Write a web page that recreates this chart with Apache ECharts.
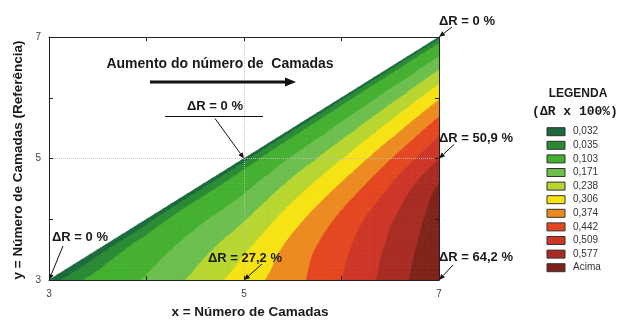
<!DOCTYPE html>
<html>
<head>
<meta charset="utf-8">
<script src="https://cdn.jsdelivr.net/npm/echarts@6/dist/echarts.min.js"></script>
<style>
  html, body { margin: 0; padding: 0; background: #ffffff; }
  #chart { width: 623px; height: 321px; }
</style>
</head>
<body>
<div id="chart"></div>
<script>
// ΔR on a 0.5 grid: one row per reference layer count y, x running from y up to 7
const gridStep = 0.5;
const rowY = [3, 3.5, 4, 4.5, 5, 5.5, 6, 6.5, 7];
const dR_y3   = [0, 0.050, 0.111, 0.187, 0.272, 0.350, 0.441, 0.538, 0.642];
const dR_y3_5 = [0, 0.065, 0.142, 0.228, 0.331, 0.425, 0.523, 0.627];
const dR_y4   = [0, 0.081, 0.165, 0.279, 0.391, 0.500, 0.612];
const dR_y4_5 = [0, 0.090, 0.204, 0.324, 0.450, 0.588];
const dR_y5   = [0, 0.112, 0.234, 0.370, 0.509];
const dR_y5_5 = [0, 0.127, 0.265, 0.416];
const dR_y6   = [0, 0.143, 0.296];
const dR_y6_5 = [0, 0.158];
const dR_y7   = [0];
const dRRows = [dR_y3, dR_y3_5, dR_y4, dR_y4_5, dR_y5, dR_y5_5, dR_y6, dR_y6_5, dR_y7];

// contour band edges and legend
const contourLevels = [0.012, 0.035, 0.103, 0.171, 0.238, 0.306, 0.374, 0.442, 0.509, 0.577];
const legendLabels = ['0,032', '0,035', '0,103', '0,171', '0,238', '0,306', '0,374', '0,442', '0,509', '0,577', 'Acima'];
const bandColors = ['#1b6a3c', '#2a8a34', '#43b02f', '#6cbf4d', '#b7d62f', '#f6e312', '#ec8a20', '#e4461f', '#cd3526', '#a82b22', '#7f2219'];

// axis ticks with labels
const tickLabels = [3, 5, 7];

// annotated points [x, y]
const annotatedPoints = [[3, 3], [5, 5], [5, 3], [7, 7], [7, 5], [7, 3]];

const FONT = "'Liberation Sans', Arial, sans-serif";
const N = rowY.length;

function valueAt(x, y) {
  const r = Math.round((y - rowY[0]) / gridStep);
  const c = Math.round((x - rowY[r]) / gridStep);
  return dRRows[r][c];
}

const gridPoints = [];
dRRows.forEach((row, r) => row.forEach((v, c) => gridPoints.push([rowY[r] + c * gridStep, rowY[r], v])));

// square helper grid for smooth shading: mirrored with opposite sign across the diagonal
const square = [];
for (let j = 0; j < N; j++) {
  square[j] = [];
  for (let i = 0; i < N; i++) square[j][i] = i >= j ? dRRows[j][i - j] : -dRRows[i][j - i];
}
function G(i, j) {
  if (i < 0) return 2 * G(0, j) - G(1, j);
  if (i >= N) return 2 * G(N - 1, j) - G(N - 2, j);
  if (j < 0) return 2 * G(i, 0) - G(i, 1);
  if (j >= N) return 2 * G(i, N - 1) - G(i, N - 2);
  return square[j][i];
}
function catmull(p0, p1, p2, p3, t) {
  return 0.5 * (2 * p1 + (p2 - p0) * t + (2 * p0 - 5 * p1 + 4 * p2 - p3) * t * t + (3 * p1 - p0 - 3 * p2 + p3) * t * t * t);
}
const smoothCache = new Map();
function smoothValue(x, y) {
  const key = Math.round(x * 1000) + ':' + Math.round(y * 1000);
  if (smoothCache.has(key)) return smoothCache.get(key);
  const fx = (x - rowY[0]) / gridStep, fy = (y - rowY[0]) / gridStep;
  let i = Math.min(Math.floor(fx), N - 2), j = Math.min(Math.floor(fy), N - 2);
  const tx = fx - i, ty = fy - j;
  const col = [];
  for (let m = -1; m <= 2; m++) col.push(catmull(G(i - 1, j + m), G(i, j + m), G(i + 1, j + m), G(i + 2, j + m), tx));
  const v = Math.abs(x - y) < 1e-9 ? 0 : catmull(col[0], col[1], col[2], col[3], ty);
  smoothCache.set(key, v);
  return v;
}

// keep the part of a polygon where f(v) >= 0, interpolating linearly along edges
function clipPoly(poly, f) {
  const out = [];
  for (let i = 0; i < poly.length; i++) {
    const a = poly[i], b = poly[(i + 1) % poly.length];
    const fa = f(a.v), fb = f(b.v);
    if (fa >= 0) out.push(a);
    if ((fa >= 0) !== (fb >= 0)) {
      const t = fa / (fa - fb);
      out.push({ x: a.x + (b.x - a.x) * t, y: a.y + (b.y - a.y) * t, v: a.v + (b.v - a.v) * t });
    }
  }
  return out;
}

const SUB = 6;
function renderCell(params, api) {
  const x0 = api.value(0), y0 = api.value(1), h = gridStep;
  if (x0 + h > 7.0001 || y0 + h > 7.0001) return null;
  const s = h / SUB;
  const onDiagonal = Math.abs(x0 - y0) < 1e-9;
  const node = (a, b) => { const x = x0 + a * s, y = y0 + b * s; return { x: x, y: y, v: smoothValue(x, y) }; };
  const children = [];
  for (let b = 0; b < SUB; b++) {
    for (let a = 0; a < SUB; a++) {
      if (onDiagonal && a < b) continue;
      const A = node(a, b), B = node(a + 1, b), C = node(a + 1, b + 1);
      const tris = [[A, B, C]];
      if (!(onDiagonal && a === b)) tris.push([A, C, node(a, b + 1)]);
      tris.forEach(tri => {
        for (let k = 0; k < bandColors.length; k++) {
          let poly = tri;
          if (k > 0) { const lo = contourLevels[k - 1]; poly = clipPoly(poly, v => v - lo); }
          if (k < contourLevels.length && poly.length) { const hi = contourLevels[k]; poly = clipPoly(poly, v => hi - v); }
          if (poly.length >= 3) {
            children.push({
              type: 'polygon',
              shape: { points: poly.map(p => api.coord([p.x, p.y])) },
              style: { fill: bandColors[k], stroke: bandColors[k], lineWidth: 0.7 }
            });
          }
        }
      });
    }
  }
  return { type: 'group', children: children };
}

const axisBase = {
  type: 'value', min: 3, max: 7, interval: 1, z: 5,
  axisLine: { show: true, onZero: false, lineStyle: { color: '#222', width: 1 } },
  axisTick: { show: true, inside: true, length: 4, lineStyle: { color: '#222' } },
  splitLine: { show: false }
};
const tickText = v => (tickLabels.indexOf(v) >= 0 ? String(v) : '');

const chart = echarts.init(document.getElementById('chart'), null, { renderer: 'canvas' });
chart.setOption({
  animation: false,
  backgroundColor: '#ffffff',
  grid: { left: 49, right: 184, top: 37, bottom: 41 },
  xAxis: [
    Object.assign({}, axisBase, { position: 'bottom', axisLabel: { formatter: tickText, color: '#444', fontSize: 10, fontFamily: FONT, margin: 9 } }),
    Object.assign({}, axisBase, { position: 'top', axisLabel: { show: false } })
  ],
  yAxis: [
    Object.assign({}, axisBase, { position: 'left', axisLabel: { formatter: tickText, color: '#444', fontSize: 10, fontFamily: FONT, margin: 8 } }),
    Object.assign({}, axisBase, { position: 'right', axisLabel: { show: false } })
  ],
  series: [{
    type: 'custom',
    name: 'ΔR',
    coordinateSystem: 'cartesian2d',
    renderItem: renderCell,
    encode: { x: 0, y: 1 },
    data: gridPoints,
    clip: true,
    silent: true,
    markLine: {
      silent: true, symbol: 'none', z: 4,
      label: { show: false },
      lineStyle: { type: 'dotted', color: 'rgba(190,190,190,0.9)', width: 1 },
      data: [{ xAxis: 5 }, { yAxis: 5 }]
    }
  }]
});

// annotations
function arrow(x1, y1, x2, y2, width, head) {
  const ang = Math.atan2(y2 - y1, x2 - x1);
  const bx = x2 - head * Math.cos(ang), by = y2 - head * Math.sin(ang);
  const hw = head * 0.42;
  return [
    { type: 'line', z: 100, shape: { x1: x1, y1: y1, x2: bx, y2: by }, style: { stroke: '#111', lineWidth: width } },
    { type: 'polygon', z: 100, shape: { points: [[x2, y2], [bx + hw * Math.sin(ang), by - hw * Math.cos(ang)], [bx - hw * Math.sin(ang), by + hw * Math.cos(ang)]] }, style: { fill: '#111' } }
  ];
}
function noteText(v) {
  const pct = v * 100;
  return 'ΔR = ' + (Math.abs(pct) < 1e-9 ? '0' : pct.toFixed(1).replace('.', ',')) + ' %';
}
function label(text, x, y, align, size, family, extra) {
  return Object.assign({ type: 'text', z: 100, x: x, y: y,
    style: { text: text, fill: '#1a1a1a', font: 'bold ' + size + 'px ' + (family || FONT), textAlign: align, textVerticalAlign: 'middle' } }, extra || {});
}

const g = [];
const px = p => chart.convertToPixel({ xAxisIndex: 0, yAxisIndex: 0 }, p);

// text offset and arrow start relative to the point, per annotated point
const noteLayout = [
  { dx: 3, dy: -43, align: 'left', ax: 14, ay: -34 },
  { dx: -29, dy: -52, align: 'center', ax: -29, ay: -40, underline: [-79, 19, -42] },
  { dx: 1, dy: -22, align: 'center', ax: 18, ay: -16 },
  { dx: 0, dy: -16, align: 'left', ax: 13, ay: -10 },
  { dx: 0, dy: -20, align: 'left', ax: 15, ay: -14 },
  { dx: 0, dy: -23, align: 'left', ax: 14, ay: -15 }
];
annotatedPoints.forEach((p, i) => {
  const tip = px(p), L = noteLayout[i];
  g.push(label(noteText(valueAt(p[0], p[1])), tip[0] + L.dx, tip[1] + L.dy, L.align, 13));
  if (L.underline) {
    g.push({ type: 'line', z: 100, shape: { x1: tip[0] + L.underline[0], y1: tip[1] + L.underline[2], x2: tip[0] + L.underline[1], y2: tip[1] + L.underline[2] }, style: { stroke: '#111', lineWidth: 1 } });
  }
  arrow(tip[0] + L.ax, tip[1] + L.ay, tip[0], tip[1], 1, 6).forEach(e => g.push(e));
});

// direction note
g.push(label('Aumento do número de  Camadas', 220, 64, 'center', 14));
arrow(150, 82, 296, 82, 3, 11).forEach(e => g.push(e));

// axis titles
g.push(label('x = Número de Camadas', 250, 312, 'center', 13.5));
g.push(label('y = Número de Camadas (Referência)', 18, 160, 'center', 13.5, null, { rotation: Math.PI / 2 }));

// legend
g.push(label('LEGENDA', 578, 94, 'center', 12));
g.push(label('(ΔR x 100%)', 575, 112, 'center', 13, "'Liberation Mono', 'DejaVu Sans Mono', monospace"));
legendLabels.forEach((t, i) => {
  const cy = 131.7 + i * 13.6;
  g.push({ type: 'rect', z: 100, shape: { x: 547, y: cy - 4, width: 18, height: 8 }, style: { fill: bandColors[i], stroke: '#333', lineWidth: 1 } });
  g.push({ type: 'text', z: 100, x: 573, y: cy, style: { text: t, fill: '#333', font: '10px ' + FONT, textAlign: 'left', textVerticalAlign: 'middle' } });
});

chart.setOption({ graphic: g });
</script>
</body>
</html>
